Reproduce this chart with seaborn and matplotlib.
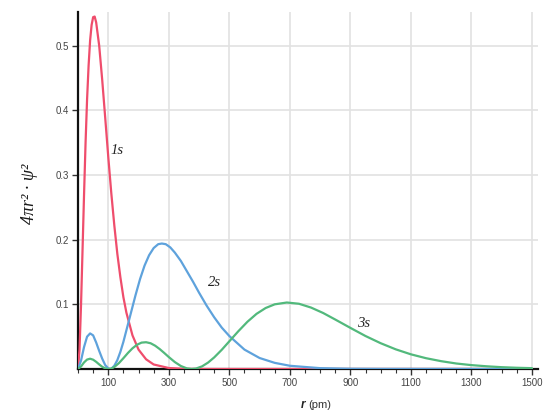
import matplotlib
matplotlib.use("Agg")
import matplotlib.pyplot as plt
import seaborn as sns
import pandas as pd
from matplotlib.ticker import MultipleLocator, FixedLocator

# ---- data ----
r_1s = [0, 5, 10, 15, 20, 25, 30, 35, 40, 45, 50, 55, 60, 70, 80, 90, 100, 110, 120,
        130, 140, 150, 160, 180, 200, 225, 250, 300, 350, 400, 500, 1500]
p_1s = [0, 0.030, 0.099, 0.184, 0.270, 0.350, 0.417, 0.469, 0.508, 0.532, 0.544, 0.545,
        0.536, 0.500, 0.447, 0.388, 0.328, 0.272, 0.222, 0.178, 0.142, 0.111, 0.087,
        0.052, 0.030, 0.015, 0.007, 0.0015, 0.0003, 0, 0, 0]

r_2s = [0, 10, 20, 30, 40, 50, 60, 70, 80, 90, 100, 106, 110, 120, 130, 140, 150, 160,
        175, 190, 205, 220, 235, 250, 265, 277, 290, 305, 320, 340, 360, 380, 400, 425,
        450, 475, 500, 550, 600, 650, 700, 800, 900, 1000, 1500]
p_2s = [0, 0.013, 0.034, 0.050, 0.055, 0.052, 0.041, 0.028, 0.016, 0.006, 0.001, 0,
        0.0004, 0.005, 0.0138, 0.0265, 0.042, 0.060, 0.087, 0.114, 0.139, 0.160, 0.176,
        0.187, 0.193, 0.194, 0.193, 0.188, 0.180, 0.167, 0.151, 0.135, 0.118, 0.098,
        0.080, 0.064, 0.051, 0.030, 0.017, 0.0095, 0.005, 0.0013, 0.0003, 0.0001, 0]

r_3s = [0, 10, 20, 30, 40, 50, 60, 70, 80, 90, 100, 110, 120, 135, 150, 165, 180, 195,
        210, 225, 240, 255, 270, 285, 300, 320, 340, 360, 375, 390, 410, 430, 450, 475,
        500, 530, 560, 590, 620, 650, 690, 730, 770, 810, 850, 900, 950, 1000, 1050,
        1100, 1150, 1200, 1250, 1300, 1350, 1400, 1450, 1500]
p_3s = [0, 0.0039, 0.0102, 0.0146, 0.0159, 0.0144, 0.0111, 0.0071, 0.0034, 0.0010, 0,
        0.0007, 0.0031, 0.0090, 0.0167, 0.0248, 0.0320, 0.0375, 0.0408, 0.0414, 0.0398,
        0.0360, 0.0308, 0.0248, 0.0185, 0.0107, 0.0046, 0.0009, 0, 0.0007, 0.0041,
        0.0100, 0.0179, 0.0297, 0.0428, 0.0585, 0.0731, 0.0853, 0.0943, 0.1000, 0.1028,
        0.1009, 0.0950, 0.0866, 0.0765, 0.0636, 0.0510, 0.0399, 0.0304, 0.0227, 0.0167,
        0.0121, 0.0085, 0.0060, 0.0042, 0.0028, 0.0019, 0.0013]

orbital_names = ["1s", "2s", "3s"]
colors = {"1s": "#ef4d6c", "2s": "#5ea2dc", "3s": "#52b97c"}
x_ticks_labeled = [100, 300, 500, 700, 900, 1100, 1300, 1500]
y_ticks = [0.1, 0.2, 0.3, 0.4, 0.5]
y_tick_labels = ["0.1", "0.2", "0.3", "0.4", "0.5"]

df = pd.concat([
    pd.DataFrame({"r": r_1s, "p": p_1s, "orbital": "1s"}),
    pd.DataFrame({"r": r_2s, "p": p_2s, "orbital": "2s"}),
    pd.DataFrame({"r": r_3s, "p": p_3s, "orbital": "3s"}),
], ignore_index=True)

sns.set_style("white")
plt.rcParams["font.family"] = ["Liberation Sans", "DejaVu Sans"]

fig = plt.figure(figsize=(5.45, 4.12), dpi=100)
ax = fig.add_axes([78 / 545, 1 - 369 / 412, 460 / 545, 357 / 412])

sns.lineplot(data=df, x="r", y="p", hue="orbital", palette=colors, ax=ax,
             linewidth=1.6, legend=False, sort=False, estimator=None, zorder=3)

ax.set_xlim(0, 1520)
ax.set_ylim(0, 0.552)

ax.xaxis.set_major_locator(FixedLocator(x_ticks_labeled))
ax.xaxis.set_minor_locator(MultipleLocator(50))
ax.set_xticklabels([str(v) for v in x_ticks_labeled])
ax.set_yticks(y_ticks)
ax.set_yticklabels(y_tick_labels)

ax.grid(True, which="major", color="#e2e2e2", linewidth=1.2, zorder=0)
ax.set_axisbelow(True)

for s in ["top", "right"]:
    ax.spines[s].set_visible(False)
for s in ["left", "bottom"]:
    ax.spines[s].set_color("#111111")
    ax.spines[s].set_linewidth(1.6)

ax.tick_params(axis="x", which="both", bottom=True, top=False)
ax.tick_params(axis="y", which="both", left=True, right=False)
ax.tick_params(axis="both", which="major", direction="out", length=4.5, width=1,
               color="#333333", labelsize=7, labelcolor="#444444", pad=2)
ax.tick_params(axis="x", which="minor", direction="out", length=3, width=0.8,
               color="#333333")

ax.set_xlabel("")
ax.set_ylabel("")

# y label
fig.text(30 / 545, 1 - 194 / 412, "4πr² · ψ²", rotation=90, ha="center", va="center",
         fontsize=13, fontstyle="italic", family=["Liberation Serif", "DejaVu Serif"],
         color="#1a1a1a")
# x label
fig.text(305 / 545, 1 - 405 / 412, "r", ha="right", va="center", fontsize=8.5,
         fontstyle="italic", fontweight="bold", color="#222222",
         family=["Liberation Sans", "DejaVu Sans"])
fig.text(308 / 545, 1 - 405 / 412, "(pm)", ha="left", va="center", fontsize=8,
         color="#333333", family=["Liberation Sans", "DejaVu Sans"])

# curve labels
label_pos = {"1s": (128, 0.338), "2s": (450, 0.133), "3s": (942, 0.071)}
for name in orbital_names:
    lx, ly = label_pos[name]
    ax.text(lx, ly, name, fontsize=10.5, fontstyle="italic",
            family=["Liberation Serif", "DejaVu Serif"], color="#222222",
            ha="center", va="center")

fig.savefig("out.png", dpi=100)
